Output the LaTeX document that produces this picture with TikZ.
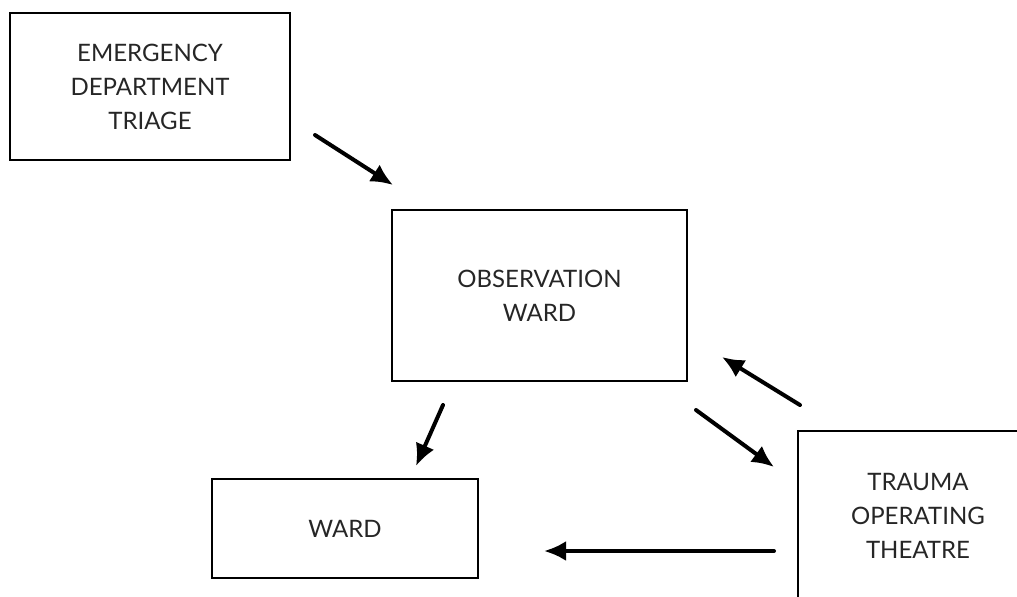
\documentclass[tikz,border=0pt]{standalone}
\usepackage{fontspec}
\setmainfont{Lato}
\usetikzlibrary{arrows.meta}
\begin{document}
\begin{tikzpicture}[x=0.5pt, y=-0.5pt,
          font=\fontsize{12}{17}\selectfont, text=black!85,
          box/.style={draw, line width=1pt, align=center, inner sep=0pt},
          flow/.style={-{Latex[length=11pt,width=10pt]}, line width=2pt, line cap=round}]
        \useasboundingbox (0,0) rectangle (1017,596);
        \clip (0,0) rectangle (1017,596);
        \node[box, minimum width=140pt, minimum height=73.5pt] (triage) at (150,86.5) {EMERGENCY\\DEPARTMENT\\TRIAGE};
        \node[box, minimum width=147.5pt, minimum height=85.5pt] (obs) at (539.5,295.5) {OBSERVATION\\WARD};
        \node[box, minimum width=133pt, minimum height=49.5pt] (ward) at (345,528.5) {WARD};
        \node[box, minimum width=120pt, minimum height=85pt] (theatre) at (918,516) {TRAUMA\\OPERATING\\THEATRE};
        % free arrow ends
        \coordinate (t1) at (315,135);  \coordinate (o1) at (393,185);
        \coordinate (o2) at (443,405);  \coordinate (w2) at (416,466);
        \coordinate (o3) at (696,410);  \coordinate (h3) at (774,467);
        \coordinate (h4) at (800,405);  \coordinate (o4) at (722,357);
        \coordinate (h5) at (774,551);  \coordinate (w5) at (544,551);
        \draw[flow] (t1) -- (o1);
        \draw[flow] (o2) -- (w2);
        \draw[flow] (o3) -- (h3);
        \draw[flow] (h4) -- (o4);
        \draw[flow] (h5) -- (w5);
      \end{tikzpicture}
\end{document}
